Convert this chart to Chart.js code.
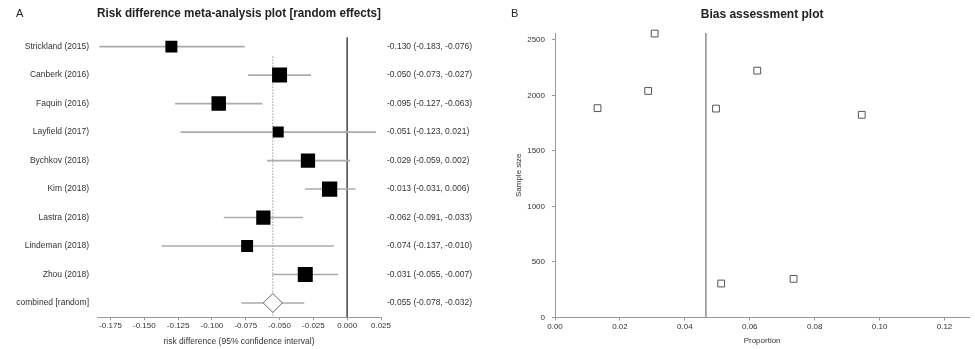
<!DOCTYPE html>
<html>
<head>
<meta charset="utf-8">
<script src="https://cdn.jsdelivr.net/npm/chart.js@4.4.0/dist/chart.umd.min.js"></script>
<style>
  body { margin: 0; background: #fff; }
  #wrap { position: relative; width: 975px; height: 349px; }
  .box { position: absolute; top: 0; height: 349px; }
  .panel { position: absolute; top: 7px; font: 11px "Liberation Sans", Arial, sans-serif; color: #222; }
</style>
</head>
<body>
<div id="wrap">
  <div class="box" style="left:0;width:490px"><canvas id="forest"></canvas></div>
  <div class="box" style="left:490px;width:485px"><canvas id="bias"></canvas></div>
  <div class="panel" style="left:16px">A</div>
  <div class="panel" style="left:511px">B</div>
</div>
<script>
// forest plot data
const studies = ['Strickland (2015)', 'Canberk (2016)', 'Faquin (2016)', 'Layfield (2017)', 'Bychkov (2018)',
  'Kim (2018)', 'Lastra (2018)', 'Lindeman (2018)', 'Zhou (2018)', 'combined [random]'];
const riskDiff = [-0.130, -0.050, -0.095, -0.051, -0.029, -0.013, -0.062, -0.074, -0.031, -0.055];
const ciLow = [-0.183, -0.073, -0.127, -0.123, -0.059, -0.031, -0.091, -0.137, -0.055, -0.078];
const ciHigh = [-0.076, -0.027, -0.063, 0.021, 0.002, 0.006, -0.033, -0.010, -0.007, -0.032];
const weights = [8.4, 13.2, 12.3, 7.1, 11.9, 13.7, 11.9, 8.4, 13.2]; // % (random effects)
const rdTicks = [-0.175, -0.15, -0.125, -0.1, -0.075, -0.05, -0.025, 0, 0.025];

// bias plot data
const proportion = [0.0307, 0.0623, 0.0287, 0.0131, 0.0496, 0.0945, 0.0512, 0.0735];
const sampleSize = [2558, 2224, 2041, 1886, 1882, 1826, 306, 348];
const pooledProp = 0.0465;
const propTicks = [0, 0.02, 0.04, 0.06, 0.08, 0.10, 0.12];
const sizeTicks = [0, 500, 1000, 1500, 2000, 2500];

const FONT = '"Liberation Sans", Arial, sans-serif';
Chart.defaults.font.family = FONT;
Chart.defaults.color = '#333';
Chart.defaults.animation = false;

const nStudies = weights.length;
const ciText = riskDiff.map((v, i) => v.toFixed(3) + ' (' + ciLow[i].toFixed(3) + ', ' + ciHigh[i].toFixed(3) + ')');
const boxRadius = weights.map(w => Math.sqrt(w) * 4.13 / Math.SQRT2);
const rowMax = studies.length - 0.5;

new Chart(document.getElementById('forest'), {
  type: 'bar',
  data: {
    datasets: [
      {
        type: 'bar', indexAxis: 'y', order: 2,
        data: studies.map((s, i) => ({ x: [ciLow[i], ciHigh[i]], y: i })),
        backgroundColor: '#ababab', barThickness: 1
      },
      {
        type: 'line', showLine: false, order: 0,
        data: riskDiff.slice(0, nStudies).map((v, i) => ({ x: v, y: i })),
        pointStyle: 'rect', pointRadius: boxRadius, backgroundColor: '#000', borderWidth: 0
      },
      {
        type: 'line', showLine: false, order: 0,
        data: [{ x: riskDiff[nStudies], y: nStudies }],
        pointStyle: 'rectRot', pointRadius: 9.5, backgroundColor: '#fff', borderColor: '#666', borderWidth: 1
      },
      {
        type: 'line', order: 3, pointRadius: 0, borderColor: '#555', borderWidth: 1,
        data: [{ x: 0, y: -0.32 }, { x: 0, y: rowMax }]
      },
      {
        type: 'line', order: 3, pointRadius: 0, borderColor: '#666', borderWidth: 1, borderDash: [1, 2],
        data: [{ x: riskDiff[nStudies], y: 0.35 }, { x: riskDiff[nStudies], y: rowMax }]
      }
    ]
  },
  options: {
    responsive: true,
    maintainAspectRatio: false,
    plugins: {
      legend: { display: false },
      tooltip: { enabled: false },
      title: {
        display: true, fullSize: false,
        text: 'Risk difference meta-analysis plot [random effects]',
        font: { size: 12, weight: 'bold' }, color: '#222',
        padding: { top: 6.5, bottom: 11.5 }
      }
    },
    scales: {
      x: {
        type: 'linear', min: -0.185, max: 0.025, offset: false,
        afterBuildTicks: s => { s.ticks = rdTicks.map(v => ({ value: v })); },
        ticks: { callback: v => v.toFixed(3), font: { size: 8 }, padding: 1, maxRotation: 0, autoSkip: false },
        grid: { drawOnChartArea: false, offset: false, tickLength: 3, color: '#999' },
        border: { color: '#999' },
        title: {
          display: true, text: 'risk difference (95% confidence interval)',
          font: { size: 8.5 }, padding: { top: 4.8, bottom: 2.2 }
        }
      },
      y: {
        type: 'linear', reverse: true, min: -0.5, max: rowMax, offset: false,
        afterBuildTicks: s => { s.ticks = studies.map((t, i) => ({ value: i })); },
        afterFit: s => { s.width = 97; },
        ticks: { callback: v => studies[v], font: { size: 8.5 }, padding: 8, autoSkip: false },
        grid: { display: false, drawTicks: false, offset: false },
        border: { display: false }
      },
      y2: {
        type: 'linear', position: 'right', reverse: true, min: -0.5, max: rowMax, offset: false,
        afterBuildTicks: s => { s.ticks = studies.map((t, i) => ({ value: i })); },
        afterFit: s => { s.width = 109; },
        ticks: { callback: v => ciText[v], font: { size: 8.5 }, padding: 6, autoSkip: false },
        grid: { display: false, drawTicks: false, offset: false },
        border: { display: false }
      }
    }
  }
});

const sizeMax = 2563;

new Chart(document.getElementById('bias'), {
  type: 'scatter',
  data: {
    datasets: [
      {
        order: 0, clip: false,
        data: proportion.map((p, i) => ({ x: p, y: sampleSize[i] })),
        pointStyle: 'rect', pointRadius: 4.8, backgroundColor: '#fff', borderColor: '#555', borderWidth: 1
      },
      {
        type: 'line', order: 1, pointRadius: 0, borderColor: '#555', borderWidth: 1,
        data: [{ x: pooledProp, y: 0 }, { x: pooledProp, y: sizeMax }]
      }
    ]
  },
  options: {
    responsive: true,
    maintainAspectRatio: false,
    plugins: {
      legend: { display: false },
      tooltip: { enabled: false },
      title: {
        display: true, fullSize: false,
        text: 'Bias assessment plot',
        font: { size: 12, weight: 'bold' }, color: '#222',
        padding: { top: 7, bottom: 11.6 }
      }
    },
    scales: {
      x: {
        type: 'linear', min: 0, max: 0.1276,
        afterBuildTicks: s => { s.ticks = propTicks.map(v => ({ value: v })); },
        ticks: { callback: v => v.toFixed(2), font: { size: 8 }, padding: 1, maxRotation: 0, autoSkip: false },
        grid: { drawOnChartArea: false, tickLength: 3, color: '#999' },
        border: { color: '#999' },
        title: { display: true, text: 'Proportion', font: { size: 8 }, padding: { top: 4.1, bottom: 3.2 } }
      },
      y: {
        type: 'linear', min: 0, max: sizeMax,
        afterBuildTicks: s => { s.ticks = sizeTicks.map(v => ({ value: v })); },
        afterFit: s => { s.width = 65; },
        ticks: { callback: v => String(v), font: { size: 8 }, padding: 7, autoSkip: false },
        grid: { drawOnChartArea: false, tickLength: 3, color: '#999' },
        border: { color: '#999' },
        title: { display: true, text: 'Sample size', font: { size: 8 }, padding: { top: 24, bottom: 0 } }
      }
    }
  }
});
</script>
</body>
</html>
